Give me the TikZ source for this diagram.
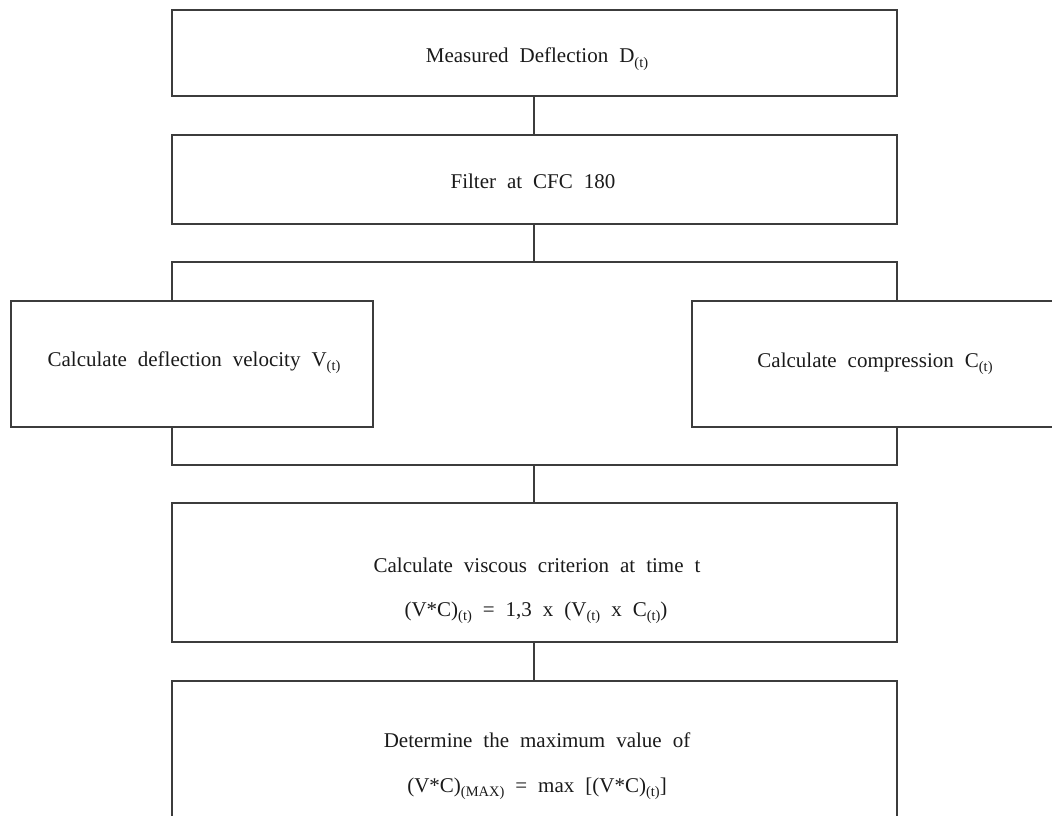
\documentclass[tikz,border=0pt]{standalone}
\usepackage{fontspec}
\setmainfont{Liberation Serif}
\newcommand{\sbt}[1]{\raisebox{-0.45ex}{\fontsize{14.5}{14.5}\selectfont #1}}
\newcommand{\lblfont}{\fontsize{21}{25}\selectfont\spaceskip 11pt plus 1pt minus 1pt\relax}
\definecolor{linegray}{HTML}{3C3C3C}
\definecolor{txt}{HTML}{1A1A1A}
\tikzset{
  box/.style={draw=linegray, line width=1.6pt, rectangle, fill=none, inner sep=0pt},
  conn/.style={draw=linegray, line width=1.6pt},
  lbl/.style={anchor=base, inner sep=0pt, text=txt, font=\lblfont}
}
\begin{document}
\begin{tikzpicture}[x=1pt,y=-1pt]
\useasboundingbox (0,0) rectangle (1052,816);
\clip (0,0) rectangle (1052,816);
% boxes
\node[box, minimum width=725, minimum height=86] (b1) at (534.5,53) {};
\node[box, minimum width=725, minimum height=89] (b2) at (534.5,179.5) {};
\node[box, minimum width=362, minimum height=126] (L) at (192,364) {};
\node[box, minimum width=368, minimum height=126] (R) at (876,364) {};
\node[box, minimum width=725, minimum height=139] (b5) at (534.5,572.5) {};
\node[box, minimum width=725, minimum height=139] (b6) at (534.5,750.5) {};
% texts
\node[lbl] (t1) at (537,63) {Measured Deflection D\sbt{(t)}};
\node[lbl] (t2) at (533,188) {Filter at CFC 180};
\node[lbl] (tL) at (194,366) {Calculate deflection velocity V\sbt{(t)}};
\node[lbl] (tR) at (875,367) {Calculate compression C\sbt{(t)}};
\node[lbl] (t5a) at (537,572) {Calculate viscous criterion at time t};
\node[lbl] (t5b) at (536,616) {(V*C)\sbt{(t)} = 1,3 x (V\sbt{(t)} x C\sbt{(t)})};
\node[lbl] (t6a) at (537,747) {Determine the maximum value of};
\node[lbl] (t6b) at (537,792) {(V*C)\sbt{(MAX)} = max [(V*C)\sbt{(t)}]};
% coordinates for the brackets
\coordinate (tl) at (172,262);
\coordinate (tr) at (897,262);
\coordinate (tm) at (534,262);
\coordinate (bl) at (172,465);
\coordinate (br) at (897,465);
\coordinate (bm) at (534,465);
% connectors
\draw[conn] (b1.south -| tm) -- (b2.north -| tm);
\draw[conn] (b2.south -| tm) -- (tm);
\draw[conn] (tl |- L.north) -- (tl) -- (tr) -- (tr |- R.north);
\draw[conn] (bl |- L.south) -- (bl) -- (br) -- (br |- R.south);
\draw[conn] (bm) -- (b5.north -| bm);
\draw[conn] (b5.south -| bm) -- (b6.north -| bm);
\end{tikzpicture}
\end{document}
